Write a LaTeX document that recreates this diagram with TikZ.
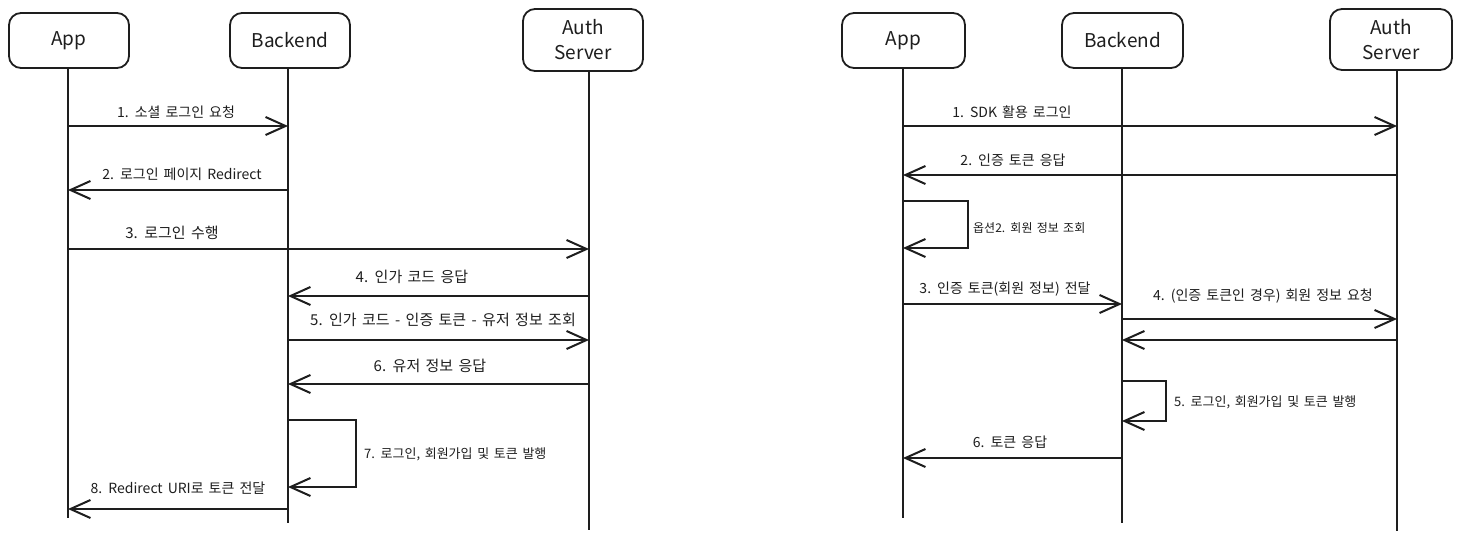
\documentclass[tikz,border=0pt]{standalone}
\usepackage{fontspec}
\setmainfont[WordSpace=1.6]{Noto Sans CJK KR}
\usetikzlibrary{arrows.meta}
\definecolor{ink}{HTML}{1E1E1E}
\begin{document}
\begin{tikzpicture}[x=1pt,y=-1pt,
  actor/.style={draw=ink, line width=1.8pt, rounded corners=12pt, align=center,
    font=\fontsize{19}{25}\selectfont, inner sep=0pt, text=ink},
  life/.style={draw=ink, line width=2pt},
  msg/.style={draw=ink, line width=2.6pt, -{Straight Barb[length=20pt,width=18pt,line width=2pt]}},
  selfmsg/.style={draw=ink, line width=2.2pt, -{Straight Barb[length=20pt,width=18pt,line width=2pt]}},
  lbl/.style={font=\fontsize{14}{16}\selectfont, inner sep=0pt, text=ink},
  lblbig/.style={lbl, font=\fontsize{15}{17}\selectfont},
  lblmid/.style={lbl, font=\fontsize{13}{15}\selectfont, anchor=west},
  lblsmall/.style={lbl, font=\fontsize{12}{14}\selectfont, anchor=west},
]
\useasboundingbox[fill=white] (0,0) rectangle (1460,541);

% ---------------- Left diagram ----------------
\node[actor, minimum width=120pt, minimum height=55pt] (appA) at (69,40.5) {App};
\node[actor, minimum width=120pt, minimum height=55pt] (backA) at (290,40.5) {Backend};
\node[actor, minimum width=120pt, minimum height=62pt] (authA) at (583,40) {Auth\\Server};

\coordinate (appAend) at (68,518);
\coordinate (backAend) at (288,523);
\coordinate (authAend) at (589,530);

\draw[life] (appA.south -| appAend) -- (appAend);
\draw[life] (backA.south -| backAend) -- (backAend);
\draw[life] (authA.south -| authAend) -- (authAend);

\draw[msg] (appAend |- 0,126) -- (backAend |- 0,126);
\node[lbl] (la1) at (176,112) {1. 소셜 로그인 요청};

\draw[msg] (backAend |- 0,190) -- (appAend |- 0,190);
\node[lbl] (la2) at (182,174) {2. 로그인 페이지 Redirect};

\draw[msg] (appAend |- 0,249) -- (authAend |- 0,249);
\node[lblbig] (la3) at (172,233) {3. 로그인 수행};

\draw[msg] (authAend |- 0,296) -- (backAend |- 0,296);
\node[lblbig] (la4) at (412,277) {4. 인가 코드 응답};

\draw[msg] (backAend |- 0,340) -- (authAend |- 0,340);
\node[lblbig] (la5) at (443,320) {5. 인가 코드 - 인증 토큰 - 유저 정보 조회};

\draw[msg] (authAend |- 0,384) -- (backAend |- 0,384);
\node[lblbig] (la6) at (430,366) {6. 유저 정보 응답};

\draw[selfmsg] (backAend |- 0,420) -| (356,487) -- (backAend |- 0,487);
\node[lblmid] (la7) at (364,454) {7. 로그인, 회원가입 및 토큰 발행};

\draw[msg] (backAend |- 0,509) -- (appAend |- 0,509);
\node[lbl] (la8) at (178,488) {8. Redirect URI로 토큰 전달};

% ---------------- Right diagram ----------------
\node[actor, minimum width=123pt, minimum height=55pt] (appB) at (903.5,40.5) {App};
\node[actor, minimum width=121pt, minimum height=55pt] (backB) at (1122.5,40.5) {Backend};
\node[actor, minimum width=122pt, minimum height=61pt] (authB) at (1391,39.5) {Auth\\Server};

\coordinate (appBend) at (903,518);
\coordinate (backBend) at (1122,523);
\coordinate (authBend) at (1397,531);

\draw[life] (appB.south -| appBend) -- (appBend);
\draw[life] (backB.south -| backBend) -- (backBend);
\draw[life] (authB.south -| authBend) -- (authBend);

\draw[msg] (appBend |- 0,126) -- (authBend |- 0,126);
\node[lbl] (lb1) at (1012,112) {1. SDK 활용 로그인};

\draw[msg] (authBend |- 0,175) -- (appBend |- 0,175);
\node[lbl] (lb2) at (1013,160) {2. 인증 토큰 응답};

\draw[selfmsg] (appBend |- 0,201) -| (968,248) -- (appBend |- 0,248);
\node[lblsmall] (lbo) at (973,228) {옵션2. 회원 정보 조회};

\draw[msg] (appBend |- 0,304) -- (backBend |- 0,304);
\node[lbl] (lb3) at (1005,289) {3. 인증 토큰(회원 정보) 전달};

\draw[msg] (backBend |- 0,319) -- (authBend |- 0,319);
\node[lbl] (lb4) at (1263,296) {4. (인증 토큰인 경우) 회원 정보 요청};

\draw[msg] (authBend |- 0,340) -- (backBend |- 0,340);

\draw[selfmsg] (backBend |- 0,381) -| (1166,421) -- (backBend |- 0,421);
\node[lblmid] (lb5) at (1174,402) {5. 로그인, 회원가입 및 토큰 발행};

\draw[msg] (backBend |- 0,458) -- (appBend |- 0,458);
\node[lbl] (lb6) at (1010,442) {6. 토큰 응답};
\end{tikzpicture}
\end{document}
